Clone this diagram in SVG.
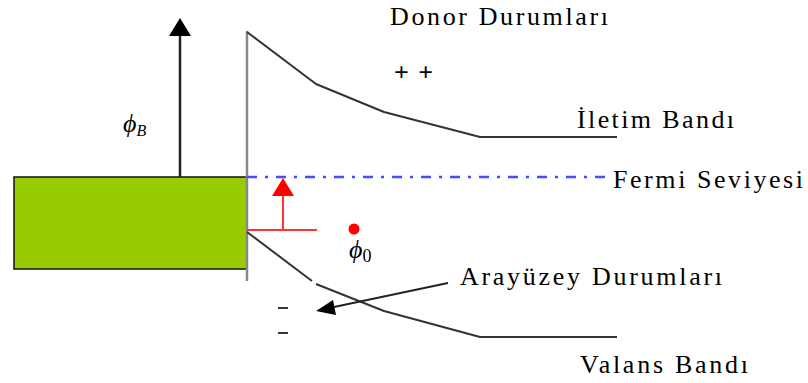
<svg xmlns="http://www.w3.org/2000/svg" width="808" height="383" viewBox="0 0 808 383">
<defs>
<style>
.band{fill:none;stroke:#333;stroke-width:2;stroke-linejoin:round}
.t{font-family:'Liberation Serif','Times New Roman',serif;font-size:26px;fill:#000}
.sym{font-family:'Liberation Serif','Times New Roman',serif;font-style:italic;font-size:26px;fill:#000}
</style>
</defs>
<rect width="808" height="383" fill="#fff"/>

<g id="metal">
<rect x="14" y="177" width="233" height="92" fill="#99cc00" stroke="#111" stroke-width="1.5"/>
</g>

<g id="interface-line">
<line x1="247" y1="31" x2="247" y2="281" stroke="#888" stroke-width="2.5"/>
</g>

<g id="conduction-band">
<polyline class="band" points="247,32 316,84 384,112 480,137 617,137"/>
</g>

<g id="valence-band">
<polyline class="band" points="247,232 312,281"/>
<polyline class="band" points="316,284 384,311 480,337 617,337"/>
</g>

<g id="fermi">
<line x1="247" y1="177" x2="607" y2="177" stroke="#4a4aff" stroke-width="2.5" stroke-dasharray="10,8,3,8"/>
</g>

<g id="phiB-arrow">
<line x1="180" y1="177" x2="180" y2="34" stroke="#222" stroke-width="2.5"/>
<polygon points="169,36 180,18 191,36" fill="#000"/>
</g>

<g id="phi0-arrow">
<line x1="247" y1="230" x2="317" y2="230" stroke="#ff3333" stroke-width="2"/>
<line x1="283" y1="230" x2="283" y2="195" stroke="#ff3333" stroke-width="2"/>
<polygon points="272,196 283,178 294,196" fill="#ff0000"/>
</g>

<g id="red-dot">
<circle cx="354" cy="229" r="5.5" fill="#ff0000"/>
</g>

<g id="connectors">
<line x1="448" y1="283" x2="334" y2="307" stroke="#222" stroke-width="2"/>
<polygon points="316,311 333,300 336,315" fill="#000"/>
</g>

<g id="charges">
<text class="t" x="394" y="81" font-weight="bold" textLength="39" lengthAdjust="spacing">++</text>
<line x1="278" y1="308" x2="288" y2="308" stroke="#222" stroke-width="1.8"/>
<line x1="278" y1="333" x2="288" y2="333" stroke="#222" stroke-width="1.8"/>
</g>

<g id="labels">
<text class="t" x="390" y="25" textLength="218" lengthAdjust="spacing">Donor Durumları</text>
<text class="t" x="577" y="128" textLength="157" lengthAdjust="spacing">İletim Bandı</text>
<text class="t" x="613" y="188" textLength="190" lengthAdjust="spacing">Fermi Seviyesi</text>
<text class="t" x="460" y="285" textLength="262" lengthAdjust="spacing">Arayüzey Durumları</text>
<text class="t" x="580" y="373" textLength="168" lengthAdjust="spacing">Valans Bandı</text>
<text class="sym" x="123" y="132">ϕ<tspan font-size="16" dy="4">B</tspan></text>
<text class="sym" x="349" y="258">ϕ<tspan font-size="18" font-style="normal" dy="4">0</tspan></text>
</g>
</svg>
